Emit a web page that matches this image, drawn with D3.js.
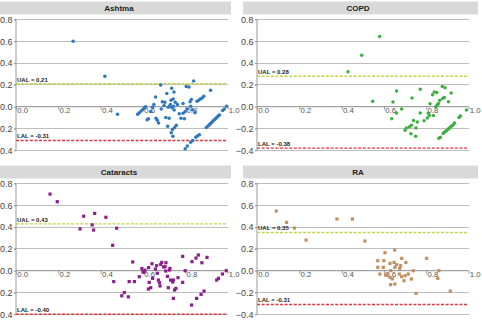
<!DOCTYPE html>
<html><head><meta charset="utf-8">
<script src="https://cdn.jsdelivr.net/npm/d3@7"></script>
<style>html,body{margin:0;padding:0;background:#fff;}svg{display:block;}</style>
</head><body>
<script>
const panelNames = ["Ashtma", "COPD", "Cataracts", "RA"];
const ualValues = [0.21, 0.28, 0.43, 0.35];
const lalValues = [-0.31, -0.38, -0.40, -0.31];
const xTicks = [0, 0.2, 0.4, 0.6, 0.8, 1.0];
const yTicks = [-0.4, -0.2, 0, 0.2, 0.4, 0.6, 0.8];

const ashtmaPoints = [[0.27,0.60],[0.42,0.28],[0.48,-0.07],
[0.575,-0.07],[0.583,-0.055],[0.592,-0.04],[0.60,-0.025],[0.608,-0.01],[0.613,0.0],
[0.62,-0.12],[0.626,-0.11],[0.637,-0.043],[0.645,-0.005],[0.652,0.02],
[0.66,0.09],[0.662,-0.105],[0.668,-0.125],[0.674,-0.15],
[0.684,0.20],[0.687,-0.02],[0.692,0.045],[0.70,0.01],
[0.704,0.04],[0.708,-0.10],[0.713,0.12],[0.717,-0.18],[0.72,-0.005],[0.724,-0.105],[0.726,0.005],
[0.73,0.02],[0.733,0.06],[0.736,0.17],[0.738,-0.01],[0.74,-0.21],[0.743,0.07],[0.734,-0.24],[0.742,-0.27],[0.747,0.134],[0.75,-0.19],[0.758,-0.17],[0.753,0.04],[0.748,-0.03],[0.745,0.005],
[0.763,0.02],[0.772,-0.064],[0.78,-0.105],[0.79,0.03],[0.79,-0.06],[0.796,-0.11],[0.80,-0.043],[0.805,0.185],
[0.81,-0.02],[0.818,0.18],[0.823,0.045],[0.829,0.067],[0.834,-0.028],[0.84,0.235],[0.846,-0.055],[0.826,0.005],
[0.856,0.05],[0.864,0.06],[0.872,0.07],[0.88,0.08],[0.888,0.095],[0.92,0.152],
[0.996,0.003],[0.985,-0.02],[0.977,-0.035],[0.962,-0.075],[0.956,-0.086],[0.95,-0.097],[0.944,-0.108],[0.938,-0.12],[0.932,-0.13],[0.926,-0.142],[0.92,-0.153],[0.914,-0.165],[0.908,-0.176],[0.90,-0.19],
[0.867,-0.257],[0.858,-0.268],[0.85,-0.28],[0.836,-0.31],[0.826,-0.325],[0.81,-0.36],[0.80,-0.385]];

const copdPoints = [[0.43,0.32],[0.495,0.473],[0.58,0.645],[0.547,0.05],[0.637,-0.11],[0.643,0.042],[0.66,0.143],[0.66,-0.058],[0.684,-0.02],
[0.70,-0.217],[0.706,-0.196],[0.72,-0.187],[0.73,-0.17],[0.728,-0.248],[0.733,0.08],[0.74,-0.126],[0.75,-0.27],[0.752,-0.196],[0.772,0.16],[0.772,-0.058],
[0.758,-0.14],[0.79,-0.128],[0.805,-0.104],[0.81,-0.06],[0.818,0.027],[0.815,-0.08],[0.834,-0.08],
[0.83,0.11],[0.838,0.135],[0.85,0.13],[0.845,0.0],[0.852,0.015],[0.858,0.03],[0.864,0.06],[0.876,0.186],[0.889,0.174],[0.878,0.075],[0.886,0.085],[0.905,0.045],[0.918,0.125],
[0.86,-0.29],[0.867,-0.28],[0.88,-0.245],[0.886,-0.235],[0.892,-0.225],[0.898,-0.215],[0.904,-0.205],[0.91,-0.195],[0.916,-0.185],[0.922,-0.175],[0.928,-0.165],[0.934,-0.15],[0.955,-0.1],[0.962,-0.085],[0.99,-0.03]];

const cataractsPoints = [[0.161,0.703],[0.195,0.633],[0.303,0.383],[0.32,0.50],[0.36,0.42],[0.367,0.373],[0.372,0.526],[0.425,0.49],[0.476,0.39],[0.457,0.233],[0.462,-0.10],
[0.50,-0.23],[0.512,-0.20],[0.531,-0.24],[0.535,-0.10],[0.552,0.08],[0.56,-0.10],[0.583,-0.055],
[0.595,0.02],[0.60,-0.01],[0.605,-0.015],[0.61,0.005],
[0.627,0.028],[0.643,0.064],[0.63,-0.107],[0.626,-0.168],[0.637,-0.156],[0.646,-0.07],[0.659,0.015],[0.665,0.046],[0.668,-0.024],[0.673,-0.086],[0.678,-0.11],[0.681,-0.14],[0.684,0.058],[0.689,0.076],[0.697,0.034],[0.705,0.037],[0.708,-0.003],[0.709,0.073],[0.716,-0.052],[0.72,-0.156],[0.725,0.006],[0.728,0.021],[0.731,-0.086],[0.741,-0.104],[0.744,-0.086],[0.75,-0.177],[0.756,-0.162],[0.744,-0.254],[0.766,-0.064],[0.788,0.131],[0.80,0.0],[0.788,-0.107],[0.832,0.083],[0.851,0.116],[0.862,0.144],[0.879,0.073],[0.903,0.122],[0.875,-0.217],[0.854,-0.254],[0.83,-0.315],[0.889,-0.187],[0.949,-0.086],[0.957,-0.07],[0.976,-0.03],[0.994,0.0]];

const raPoints = [[0.091,0.547],[0.14,0.443],[0.177,0.391],[0.232,0.281],[0.378,0.474],[0.451,0.474],[0.51,0.272],
[0.605,0.165],[0.651,0.19],
[0.571,0.092],[0.60,0.092],[0.571,0.031],[0.581,-0.031],[0.597,0.031],[0.629,0.067],[0.648,0.076],[0.632,0.0],[0.616,-0.031],[0.629,-0.061],[0.66,0.055],[0.652,0.031],[0.684,0.113],[0.679,0.046],[0.704,0.076],[0.673,-0.031],[0.684,-0.055],[0.70,-0.046],[0.695,-0.092],[0.715,-0.031],[0.73,-0.076],[0.739,0.0],[0.652,-0.122],[0.632,-0.128],[0.752,-0.208],[0.802,0.113],[0.855,-0.07],[0.86,0.0],[0.914,-0.187],[0.608,-0.04],[0.675,0.02],[0.64,-0.075]];

const panelPoints = [ashtmaPoints, copdPoints, cataractsPoints, raPoints];
const panelColors = ["#2f77bd", "#3fae3f", "#8c1f8c", "#c19060"];

const W = 482, H = 322;
const svg = d3.select("body").append("svg").attr("width", W).attr("height", H);
const originX = [0, 241], originY = [0, 164];
const titleCX = [119, 358];
const FONT = "Liberation Sans, Arial, sans-serif";

panelNames.forEach((name, i) => {
  const col = i % 2, row = Math.floor(i / 2);
  const ox = originX[col], oy = originY[row];
  const g = svg.append("g").attr("transform", `translate(${ox},${oy})`);
  const x = d3.scaleLinear().domain([0, 1]).range([16, 227.5]);
  const y = d3.scaleLinear().domain([-0.4, 0.8]).range([150.3, 19.5]);

  // title strip
  g.append("rect").attr("x", col === 0 ? -4 : 2).attr("y", 1.5)
    .attr("width", 235).attr("height", 13).attr("fill", "#d9d9d9");
  g.append("text").attr("x", titleCX[col] - ox).attr("y", 11.2)
    .attr("text-anchor", "middle").attr("font-family", FONT)
    .attr("font-weight", "bold").attr("font-size", 8).attr("fill", "#222").text(name);

  // gridlines
  g.selectAll(".grid").data(yTicks.filter(t => t !== 0)).enter().append("line")
    .attr("x1", 14).attr("x2", x(1)).attr("y1", d => y(d)).attr("y2", d => y(d))
    .attr("stroke", "#bdbdbd").attr("stroke-width", 1).attr("shape-rendering", "crispEdges");

  // y axis
  const yAxis = d3.axisLeft(y).tickValues(yTicks).tickSize(2).tickFormat(d3.format(".1f"));
  const ya = g.append("g").attr("transform", "translate(16,0)").call(yAxis);
  ya.select(".domain").attr("stroke", "#999").attr("d", `M-2,${y(0.8)}H0V${y(-0.4)}`);
  ya.selectAll(".tick line").attr("stroke", "#999");
  ya.selectAll(".tick text").attr("font-family", FONT).attr("font-size", 9).attr("fill", "#444").attr("x", -3.5);

  // x axis at zero
  const xAxis = d3.axisBottom(x).tickValues(xTicks).tickSize(3).tickFormat(d3.format(".1f"));
  const xa = g.append("g").attr("transform", `translate(0,${y(0)})`).call(xAxis);
  xa.select(".domain").attr("stroke", "#8a8a8a").attr("d", `M16,0H${x(1)}`);
  xa.selectAll(".tick line").attr("stroke", "#999");
  xa.selectAll(".tick text").attr("font-family", FONT).attr("font-size", 7.8).attr("fill", "#555")
    .attr("text-anchor", "start").attr("x", 0.8).attr("y", 1).attr("dy", "0.71em");

  // limit lines
  const limits = [
    { v: ualValues[i], label: "UAL = " + ualValues[i].toFixed(2), color: "#c3d44c" },
    { v: lalValues[i], label: "LAL = " + lalValues[i].toFixed(2), color: "#e0353d" }
  ];
  limits.forEach(l => {
    g.append("line").attr("x1", 16).attr("x2", x(1)).attr("y1", y(l.v)).attr("y2", y(l.v))
      .attr("stroke", l.color).attr("stroke-width", 1.4).attr("stroke-dasharray", "3,1.6");
    g.append("text").attr("x", 17).attr("y", y(l.v) - 2.2).attr("font-family", FONT)
      .attr("font-weight", "bold").attr("font-size", 6).attr("fill", "#222").text(l.label);
  });

  // points
  const pts = panelPoints[i];
  if (row === 0) {
    g.selectAll(".pt").data(pts).enter().append("circle")
      .attr("cx", d => x(d[0])).attr("cy", d => y(d[1])).attr("r", 1.75)
      .attr("fill", panelColors[i]);
  } else {
    const s = 3.2;
    g.selectAll(".pt").data(pts).enter().append("rect")
      .attr("x", d => x(d[0]) - s / 2).attr("y", d => y(d[1]) - s / 2)
      .attr("width", s).attr("height", s).attr("fill", panelColors[i]);
  }
});
</script>
</body></html>
